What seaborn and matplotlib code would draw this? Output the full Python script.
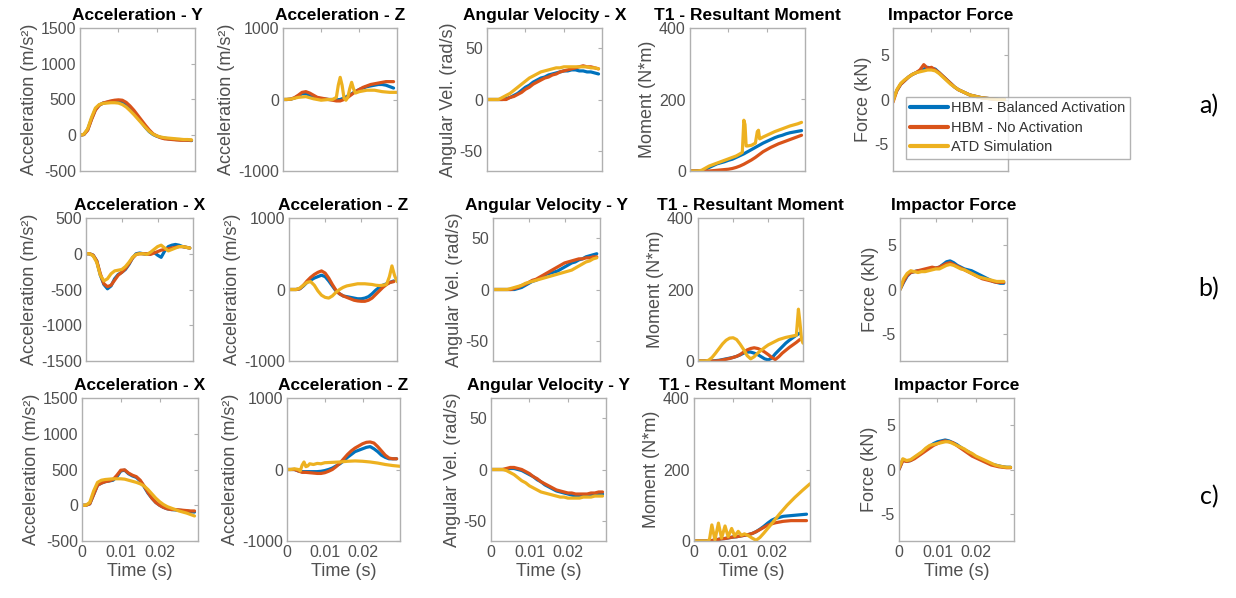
import numpy as np
import pandas as pd
import matplotlib
matplotlib.use("Agg")
import matplotlib.pyplot as plt
from matplotlib.lines import Line2D
import seaborn as sns

sns.set_theme(style="white")
plt.rcParams['font.family'] = ['Liberation Sans', 'DejaVu Sans']

# ---------------- data ----------------
series_names = ["HBM - Balanced Activation", "HBM - No Activation", "ATD Simulation"]
series_colors = ["#0072BD", "#D95319", "#EDB120"]

time_ms = [0, 1, 2, 3, 4, 5, 6, 7, 8, 9, 10, 11, 12, 13, 14, 15, 16, 17, 18, 19,
           20, 21, 22, 23, 24, 25, 26, 27, 28, 29]

# Row a)
a_accy_bal = [0, 10, 80, 230, 360, 420, 450, 460, 470, 480, 480, 460, 420, 370, 310, 250, 180, 110, 50, 10,
              -15, -30, -40, -50, -55, -60, -60, -65, -70, -75]
a_accy_no = [0, 10, 70, 220, 350, 420, 450, 465, 480, 490, 495, 490, 460, 410, 350, 280, 210, 140, 75, 20,
             -10, -35, -50, -55, -60, -65, -70, -70, -70, -70]
a_accy_atd = [0, 15, 90, 250, 380, 430, 445, 450, 455, 455, 450, 430, 395, 345, 290, 230, 170, 110, 55, 15,
              -10, -25, -35, -40, -45, -50, -55, -60, -60, -65]

a_accz_bal = [0, 0, 5, 20, 50, 80, 80, 60, 40, 20, 10, 5, 0, 0, -5, 0, 20, 50, 80, 110,
              140, 160, 180, 190, 200, 210, 210, 200, 180, 160]
a_accz_no = [0, 0, 5, 25, 60, 100, 110, 90, 60, 30, 20, 10, 0, -10, -20, -20, 0, 30, 70, 110,
             140, 170, 190, 210, 220, 230, 240, 250, 250, 250]
a_accz_atd_t = [0, 2, 4, 6, 8, 10, 12, 13, 14, 14.5, 15, 15.5, 16, 16.5, 17, 17.5, 18, 18.5, 19, 20,
                22, 24, 26, 28, 29.9]
a_accz_atd = [0, 5, 30, 40, 10, -10, 0, 0, 30, 200, 310, 200, 20, -10, 30, 150, 240, 150, 90, 110,
              130, 130, 110, 100, 100]

a_angv_bal = [0, 0, 0, 0, 0, 1, 2, 4, 6, 9, 12, 14, 17, 19, 21, 22, 24, 25, 26, 27,
              28, 28, 29, 29, 28, 28, 27, 27, 26, 25]
a_angv_no = [0, 0, 0, 0, 0, 0, 2, 3, 5, 7, 10, 12, 15, 17, 19, 21, 22, 24, 25, 27,
             28, 29, 30, 31, 32, 33, 32, 32, 31, 30]
a_angv_atd = [0, 0, 0, 0, 2, 4, 6, 9, 12, 15, 18, 21, 23, 25, 27, 28, 29, 30, 31, 31,
              32, 32, 32, 32, 32, 32, 32, 31, 31, 30]

a_mom_bal = [0, 0, 0, 0, 5, 10, 15, 20, 23, 26, 30, 33, 38, 43, 48, 54, 60, 66, 72, 78,
             83, 88, 93, 97, 100, 104, 107, 109, 111, 113]
a_mom_no = [0, 0, 0, 0, 0, 0, 1, 2, 3, 4, 5, 7, 10, 14, 19, 25, 31, 38, 46, 54,
            60, 66, 71, 76, 80, 84, 88, 92, 96, 100]
a_mom_atd_t = [0, 1, 2, 3, 4, 5, 6, 7, 8, 9, 10, 11, 12, 13, 13.6, 14.0, 14.3, 14.6, 15, 16,
               17, 17.5, 17.8, 18.1, 18.5, 19, 20, 21, 22, 23, 24, 25, 26, 27, 28, 29]
a_mom_atd = [0, 0, 0, 2, 8, 14, 18, 22, 26, 30, 34, 38, 42, 48, 52, 142, 130, 70, 70, 72,
             78, 110, 114, 90, 92, 95, 100, 105, 110, 114, 118, 122, 126, 129, 132, 136]

a_force_bal = [0, 1.0, 1.7, 2.1, 2.5, 2.8, 3.0, 3.2, 3.4, 3.6, 3.5, 3.4, 3.0, 2.6, 2.2, 1.8, 1.4, 1.1, 0.9, 0.7,
               0.5, 0.4, 0.3, 0.2, 0.15, 0.1, 0.05, 0.05, 0, 0]
a_force_no = [-0.3, 1.0, 1.7, 2.1, 2.5, 2.8, 3.0, 3.3, 3.9, 3.5, 3.6, 3.3, 3.0, 2.6, 2.2, 1.8, 1.4, 1.1, 0.9, 0.7,
              0.5, 0.4, 0.3, 0.2, 0.15, 0.1, 0.05, 0, 0, 0]
a_force_atd = [-0.2, 1.1, 1.8, 2.2, 2.5, 2.8, 3.0, 3.1, 3.2, 3.3, 3.3, 3.2, 2.9, 2.5, 2.1, 1.7, 1.4, 1.1, 0.9, 0.7,
               0.5, 0.4, 0.3, 0.2, 0.15, 0.1, 0.05, 0, 0, 0]

# Row b)
b_accx_bal = [0, 0, -20, -100, -300, -430, -490, -450, -350, -290, -260, -220, -150, -60, 0, 10, 0, -10, 10, 20,
              -20, -50, 40, 100, 120, 130, 120, 100, 90, 80]
b_accx_no = [0, 0, -20, -100, -280, -420, -460, -440, -370, -300, -260, -210, -140, -60, -10, 0, 0, 0, -10, 10,
             30, 50, 60, 70, 80, 90, 100, 100, 90, 80]
b_accx_atd = [0, 0, -30, -120, -300, -380, -350, -280, -240, -230, -220, -180, -120, -50, -10, 0, 0, -10, 20, 60,
              100, 120, 80, 40, 60, 80, 100, 100, 90, 80]

b_accz_bal = [0, 0, 0, 10, 50, 100, 130, 160, 180, 200, 180, 120, 50, -20, -60, -90, -100, -110, -120, -130,
              -130, -120, -100, -60, -10, 30, 60, 80, 100, 120]
b_accz_no = [0, 0, 0, 10, 60, 120, 170, 210, 240, 260, 230, 160, 70, -10, -60, -90, -110, -130, -150, -160,
             -165, -165, -150, -120, -70, -20, 30, 70, 100, 110]
b_accz_atd_t = [0, 1, 2, 3, 4, 5, 6, 7, 8, 9, 10, 11, 12, 13, 14, 15, 16, 17, 18, 19,
                20, 21, 22, 23, 24, 25, 26, 27, 27.8, 28.5, 29.2, 29.9]
b_accz_atd = [0, 0, 0, 20, 60, 100, 110, 60, -20, -80, -110, -120, -90, -40, 0, 30, 50, 60, 70, 80,
              80, 80, 75, 70, 60, 55, 60, 70, 180, 330, 200, 110]

b_angv_bal = [0, 0, 0, 0, 0, 0, 0, 1, 2, 4, 6, 8, 9, 11, 13, 15, 16, 17, 18, 20,
              22, 24, 26, 27, 29, 30, 32, 33, 34, 35]
b_angv_no = [0, 0, 0, 0, 0, 0, 1, 2, 4, 5, 7, 9, 10, 12, 14, 16, 18, 20, 22, 24,
             26, 27, 28, 29, 30, 30, 31, 31, 32, 32]
b_angv_atd = [0, 0, 0, 0, 0, 1, 2, 3, 4, 6, 7, 8, 9, 10, 11, 12, 13, 14, 15, 16,
              17, 18, 19, 21, 23, 25, 27, 28, 30, 31]

b_mom_bal = [0, 0, 0, 0, 0, 1, 2, 4, 6, 8, 10, 13, 17, 22, 25, 25, 22, 18, 12, 6,
             3, 8, 20, 30, 40, 50, 58, 65, 72, 78]
b_mom_no = [0, 0, 0, 0, 0, 0, 1, 3, 5, 7, 10, 13, 18, 25, 31, 35, 37, 35, 31, 25,
            18, 10, 4, 12, 22, 30, 38, 45, 52, 60]
b_mom_atd_t = [0, 1, 2, 3, 4, 5, 6, 7, 8, 9, 10, 11, 12, 13, 14, 15, 16, 17, 18, 19,
               20, 21, 22, 23, 24, 25, 26, 27, 28, 28.6, 29.0, 29.5, 29.9]
b_mom_atd = [0, 0, 0, 2, 10, 22, 35, 48, 58, 64, 65, 60, 47, 32, 15, 6, 12, 22, 30, 38,
             45, 50, 55, 60, 63, 66, 68, 70, 72, 145, 110, 60, 50]

b_force_bal = [0, 0.8, 1.5, 1.9, 2.0, 2.1, 2.1, 2.2, 2.3, 2.4, 2.4, 2.5, 2.8, 3.1, 3.2, 3.0, 2.7, 2.5, 2.3, 2.2,
               2.1, 1.9, 1.7, 1.5, 1.3, 1.1, 0.9, 0.8, 0.7, 0.7]
b_force_no = [0, 0.9, 1.6, 1.9, 2.0, 2.1, 2.2, 2.3, 2.4, 2.5, 2.4, 2.5, 2.7, 2.9, 3.0, 2.8, 2.6, 2.4, 2.2, 2.0,
              1.8, 1.6, 1.4, 1.2, 1.1, 1.0, 0.9, 0.8, 0.8, 0.8]
b_force_atd = [0, 1.2, 1.8, 2.1, 2.0, 1.9, 2.0, 2.0, 2.1, 2.2, 2.3, 2.3, 2.5, 2.7, 2.8, 2.7, 2.5, 2.3, 2.2, 2.0,
               1.8, 1.6, 1.4, 1.3, 1.2, 1.1, 1.0, 0.9, 0.9, 0.9]

# Row c)
c_accx_bal = [0, 0, 20, 150, 280, 310, 330, 340, 350, 400, 480, 490, 440, 410, 390, 340, 260, 170, 100, 40,
              0, -30, -50, -60, -65, -70, -75, -80, -90, -95]
c_accx_no = [0, 0, 20, 150, 280, 310, 330, 340, 360, 420, 490, 495, 450, 420, 400, 350, 270, 180, 100, 40,
             0, -30, -50, -60, -60, -65, -70, -75, -80, -80]
c_accx_atd = [0, 0, 40, 200, 320, 350, 360, 365, 370, 370, 370, 365, 350, 335, 320, 300, 270, 220, 160, 100,
              50, 10, -20, -40, -60, -80, -95, -110, -130, -150]

c_accz_bal = [0, 0, 0, -20, -30, -30, -30, -30, -30, -25, -15, 0, 20, 50, 80, 120, 170, 210, 250, 270,
              290, 310, 320, 290, 250, 200, 170, 150, 150, 150]
c_accz_no = [0, 0, 0, -20, -40, -40, -45, -50, -55, -55, -45, -25, 0, 40, 90, 150, 210, 260, 300, 330,
             360, 380, 385, 370, 320, 260, 200, 160, 150, 150]
c_accz_atd_t = [0, 1, 2, 3, 3.5, 4, 4.5, 5, 5.5, 6, 7, 8, 9, 10, 12, 14, 16, 18, 20, 22,
                24, 26, 28, 29.9]
c_accz_atd = [0, 0, 10, 0, -20, 60, 105, 40, 50, 80, 70, 85, 80, 95, 100, 105, 115, 120, 115, 105,
              90, 70, 55, 45]

c_angv_bal = [0, 0, 0, 0, 0, 1, 1, 0, -1, -3, -5, -7, -10, -12, -15, -17, -19, -21, -22, -23,
              -24, -25, -26, -26, -26, -25, -25, -24, -24, -24]
c_angv_no = [0, 0, 0, 0, 1, 2, 2, 1, 0, -2, -4, -7, -9, -12, -14, -16, -18, -20, -21, -22,
             -23, -23, -24, -24, -24, -24, -23, -23, -22, -22]
c_angv_atd = [0, 0, 0, 0, -1, -3, -5, -8, -11, -13, -16, -18, -20, -22, -23, -24, -25, -26, -27, -27,
              -28, -28, -28, -28, -27, -27, -27, -26, -26, -26]

c_mom_bal = [0, 0, 0, 0, 0, 2, 4, 6, 7, 9, 11, 12, 14, 16, 18, 21, 26, 33, 41, 50,
             58, 63, 66, 69, 70, 71, 72, 73, 74, 75]
c_mom_no = [0, 0, 0, 0, 0, 2, 4, 6, 7, 9, 11, 12, 14, 16, 18, 21, 26, 32, 38, 44,
            48, 51, 53, 55, 56, 57, 57, 57, 57, 57]
c_mom_atd_t = [0, 3.6, 4.0, 4.6, 5.4, 6.3, 7.1, 8.0, 8.8, 9.7, 10.5, 11.4, 12.2, 13.0, 14.0, 15.0, 16.0, 17.0,
               18.0, 20.0, 22.0, 24.0, 26.0, 28.0, 29.9]
c_mom_atd = [0, 0, 5, 45, 3, 50, 8, 42, 12, 35, 14, 27, 16, 20, 15, 8, 2, 10,
             22, 48, 75, 100, 122, 142, 160]

c_force_bal = [0, 1.1, 0.9, 1.0, 1.3, 1.6, 1.9, 2.3, 2.6, 2.9, 3.1, 3.2, 3.3, 3.2, 3.0, 2.8, 2.5, 2.2, 2.0, 1.7,
               1.4, 1.2, 1.0, 0.8, 0.6, 0.5, 0.4, 0.3, 0.25, 0.25]
c_force_no = [0, 1.0, 0.9, 1.0, 1.2, 1.5, 1.8, 2.1, 2.4, 2.7, 2.9, 3.1, 3.2, 3.1, 3.0, 2.7, 2.4, 2.1, 1.8, 1.5,
              1.3, 1.1, 0.9, 0.7, 0.5, 0.4, 0.3, 0.25, 0.2, 0.2]
c_force_atd = [0.2, 1.2, 1.0, 1.1, 1.4, 1.7, 2.0, 2.4, 2.7, 2.8, 2.9, 3.0, 3.1, 3.1, 2.9, 2.7, 2.5, 2.3, 2.0, 1.8,
               1.5, 1.3, 1.1, 0.9, 0.7, 0.5, 0.4, 0.3, 0.25, 0.25]

titles = [
    ["Acceleration - Y", "Acceleration - Z", "Angular Velocity - X", "T1 - Resultant Moment", "Impactor Force"],
    ["Acceleration - X", "Acceleration - Z", "Angular Velocity - Y", "T1 - Resultant Moment", "Impactor Force"],
    ["Acceleration - X", "Acceleration - Z", "Angular Velocity - Y", "T1 - Resultant Moment", "Impactor Force"],
]
ylabels = ["Acceleration (m/s²)", "Acceleration (m/s²)", "Angular Vel. (rad/s)", "Moment (N*m)", "Force (kN)"]
row_labels = ["a)", "b)", "c)"]
x_ticks = [0, 0.01, 0.02]
x_ticklabels = ["0", "0.01", "0.02"]

ylims = [
    [(-500, 1500), (-1000, 1000), (-70, 70), (0, 400), (-8, 8)],
    [(-1500, 500), (-1000, 1000), (-70, 70), (0, 400), (-8, 8)],
    [(-500, 1500), (-1000, 1000), (-70, 70), (0, 400), (-8, 8)],
]
yticks = [
    [[-500, 0, 500, 1000, 1500], [-1000, 0, 1000], [-50, 0, 50], [0, 200, 400], [-5, 0, 5]],
    [[-1500, -1000, -500, 0, 500], [-1000, 0, 1000], [-50, 0, 50], [0, 200, 400], [-5, 0, 5]],
    [[-500, 0, 500, 1000, 1500], [-1000, 0, 1000], [-50, 0, 50], [0, 200, 400], [-5, 0, 5]],
]

panel_data = [
    [
        [(time_ms, a_accy_bal), (time_ms, a_accy_no), (time_ms, a_accy_atd)],
        [(time_ms, a_accz_bal), (time_ms, a_accz_no), (a_accz_atd_t, a_accz_atd)],
        [(time_ms, a_angv_bal), (time_ms, a_angv_no), (time_ms, a_angv_atd)],
        [(time_ms, a_mom_bal), (time_ms, a_mom_no), (a_mom_atd_t, a_mom_atd)],
        [(time_ms, a_force_bal), (time_ms, a_force_no), (time_ms, a_force_atd)],
    ],
    [
        [(time_ms, b_accx_bal), (time_ms, b_accx_no), (time_ms, b_accx_atd)],
        [(time_ms, b_accz_bal), (time_ms, b_accz_no), (b_accz_atd_t, b_accz_atd)],
        [(time_ms, b_angv_bal), (time_ms, b_angv_no), (time_ms, b_angv_atd)],
        [(time_ms, b_mom_bal), (time_ms, b_mom_no), (b_mom_atd_t, b_mom_atd)],
        [(time_ms, b_force_bal), (time_ms, b_force_no), (time_ms, b_force_atd)],
    ],
    [
        [(time_ms, c_accx_bal), (time_ms, c_accx_no), (time_ms, c_accx_atd)],
        [(time_ms, c_accz_bal), (time_ms, c_accz_no), (c_accz_atd_t, c_accz_atd)],
        [(time_ms, c_angv_bal), (time_ms, c_angv_no), (time_ms, c_angv_atd)],
        [(time_ms, c_mom_bal), (time_ms, c_mom_no), (c_mom_atd_t, c_mom_atd)],
        [(time_ms, c_force_bal), (time_ms, c_force_no), (time_ms, c_force_atd)],
    ],
]

# ---------------- layout (pixels) ----------------
W, H = 1236, 598
row_tb = [(28, 171), (218, 361), (398, 541)]
col_lr = [
    [(80, 195), (283, 397), (487, 602), (690, 805), (893, 1008)],
    [(86, 193), (289, 397), (493, 600), (698, 803), (900, 1007)],
    [(82, 198), (287, 400), (491, 606), (694, 810), (899, 1014)],
]
row_label_y = [106, 289, 497]

text_gray = "#505050"
spine_gray = "#b0b0b0"

fig = plt.figure(figsize=(W / 100, H / 100), dpi=100)
fig.patch.set_facecolor("white")

palette = dict(zip(series_names, series_colors))

for r in range(3):
    top, bot = row_tb[r]
    for c in range(5):
        left, right = col_lr[r][c]
        ax = fig.add_axes([left / W, 1 - bot / H, (right - left) / W, (bot - top) / H])
        frames = []
        for name, (t, v) in zip(series_names, panel_data[r][c]):
            frames.append(pd.DataFrame({"t": np.asarray(t, float) / 1000.0,
                                        "v": np.asarray(v, float),
                                        "series": name}))
        df = pd.concat(frames, ignore_index=True)
        sns.lineplot(data=df, x="t", y="v", hue="series", hue_order=series_names,
                     palette=palette, estimator=None, sort=False, lw=2.3,
                     legend=False, ax=ax)
        ax.set_xlim(0, 0.0299)
        ax.set_ylim(*ylims[r][c])
        ax.set_yticks(yticks[r][c])
        ax.set_yticklabels([str(v) for v in yticks[r][c]])
        ax.set_xticks(x_ticks)
        for s in ax.spines.values():
            s.set_color(spine_gray)
            s.set_linewidth(1.0)
            s.set_visible(True)
        ax.tick_params(direction="in", length=3, width=0.8, color=spine_gray,
                       top=True, right=True, labelsize=11.5, labelcolor=text_gray, pad=3)
        ax.set_title(titles[r][c], fontsize=12.5, fontweight="bold", color="black", pad=6)
        ax.set_ylabel(ylabels[c], fontsize=13, color=text_gray, labelpad=2)
        if r == 2:
            ax.set_xticklabels(x_ticklabels)
            ax.set_xlabel("Time (s)", fontsize=13, color=text_gray, labelpad=2)
        else:
            ax.tick_params(labelbottom=False)
            ax.set_xlabel("")
        ax.set_facecolor("white")
        if r == 0 and c == 4:
            handles = [Line2D([0], [0], color=col, lw=3) for col in series_colors]
            leg = ax.legend(handles, series_names, loc="upper left",
                            bbox_to_anchor=(906 / W, 1 - 97 / H), bbox_transform=fig.transFigure,
                            fontsize=10.5, frameon=True, fancybox=False, edgecolor="#a0a0a0",
                            handlelength=2.6, handletextpad=0.2, borderpad=0.3,
                            labelspacing=0.38, borderaxespad=0)
            leg.get_frame().set_linewidth(1.0)
            for txt in leg.get_texts():
                txt.set_color("#333333")
    fig.text(1209 / W, 1 - row_label_y[r] / H, row_labels[r], fontsize=18,
             family=["Lato", "DejaVu Sans"], ha="center", va="center", color="black")

fig.savefig("out.png", dpi=100, facecolor="white")
